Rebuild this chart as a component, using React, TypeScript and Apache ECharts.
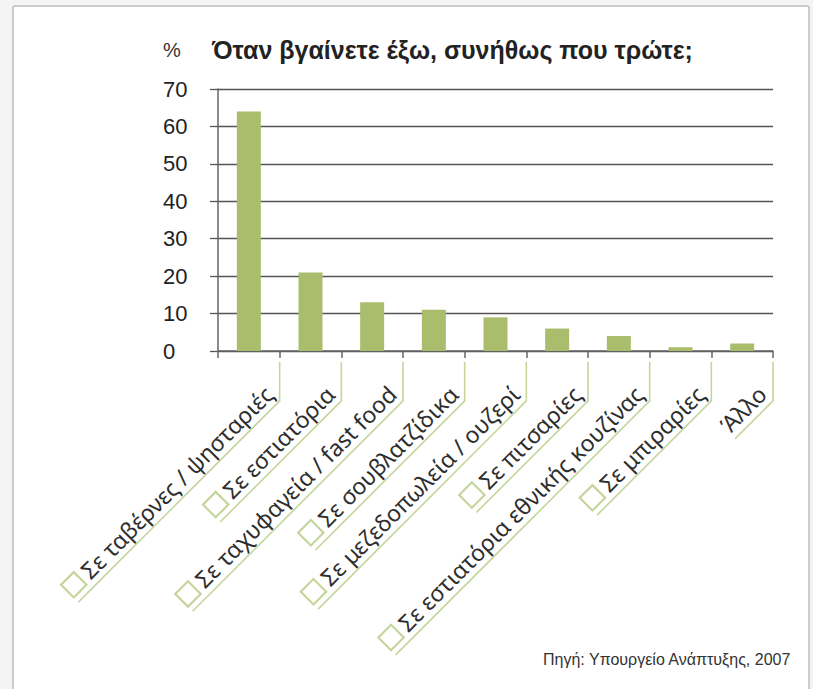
import React, { useEffect, useRef } from "react";
import * as echarts from "echarts";

const categories = [
  "Σε ταβέρνες / ψησταριές",
  "Σε εστιατόρια",
  "Σε ταχυφαγεία / fast food",
  "Σε σουβλατζίδικα",
  "Σε μεζεδοπωλεία / ουζερί",
  "Σε πιτσαρίες",
  "Σε εστιατόρια εθνικής κουζίνας",
  "Σε μπιραρίες",
  "Άλλο",
];
const values = [64, 21, 13, 11, 9, 6, 4, 1, 2];
const withCheckbox = [true, true, true, true, true, true, true, true, false];
const yMin = 0;
const yMax = 70;
const yInterval = 10;
const titleText = "Όταν βγαίνετε έξω, συνήθως που τρώτε;";
const unitText = "%";
const sourceText = "Πηγή: Υπουργείο Ανάπτυξης, 2007";

const W = 813;
const H = 689;
const GRID_LEFT = 218;
const GRID_RIGHT = 40;
const GRID_TOP = 89;
const GRID_BOTTOM = 338;
const LINE1_H = 25;
const LINE2_H = 6;
const UNDER_OFF = LINE1_H / 2; // underline distance below block middle
const LABEL_MARGIN = 41;
const GREEN = "#c6d59c";
const BAR = "#a9bd6c";
const LABEL_FONT = "Noto Sans";

export default function App() {
  const ref = useRef<HTMLDivElement>(null);
  useEffect(() => {
    if (!ref.current) return;
    const chart = echarts.init(ref.current, undefined, { renderer: "svg" });
    const n = categories.length;
    const band = (W - GRID_LEFT - GRID_RIGHT) / n;
    const d = UNDER_OFF * Math.SQRT1_2;
    const shift = band / 2 - d;

    chart.setOption({
      animation: false,
      backgroundColor: "#f4f4f4",
      title: [
        {
          text: unitText,
          left: 163,
          top: 40,
          padding: 0,
          textStyle: { fontFamily: "Liberation Sans", fontSize: 20, fontWeight: "normal", color: "#333" },
        },
        {
          text: titleText,
          left: 212,
          top: 37,
          padding: 0,
          textStyle: { fontFamily: "Liberation Sans", fontSize: 25, fontWeight: "bold", color: "#222" },
        },
        {
          text: sourceText,
          left: 543,
          top: 651,
          padding: 0,
          textStyle: { fontFamily: "Liberation Sans", fontSize: 16, fontWeight: "normal", color: "#333" },
        },
      ],
      grid: [
        { left: GRID_LEFT, right: GRID_RIGHT, top: GRID_TOP, bottom: GRID_BOTTOM, outerBoundsMode: "none" },
        { left: GRID_LEFT + shift, right: GRID_RIGHT - shift, top: GRID_TOP, bottom: GRID_BOTTOM, outerBoundsMode: "none" },
      ],
      xAxis: [
        {
          type: "category",
          gridIndex: 0,
          data: categories,
          boundaryGap: true,
          axisLine: { show: true, lineStyle: { color: "#666", width: 1.5 } },
          axisTick: { show: true, interval: 0, length: 7, lineStyle: { color: "#666", width: 1.5 } },
          axisLabel: { show: false },
          splitLine: { show: false },
        },
        {
          type: "category",
          gridIndex: 1,
          data: categories,
          boundaryGap: true,
          axisLine: { show: false },
          axisTick: { show: false },
          splitLine: { show: false },
          axisLabel: {
            show: true,
            interval: 0,
            rotate: 45,
            margin: LABEL_MARGIN,
            hideOverlap: false,
            fontFamily: LABEL_FONT,
            fontSize: 23,
            color: "#2e2e2e",
            formatter: (value: string, idx: number) =>
              withCheckbox[idx] ? `{b|}{g|}{t|${value}}\n{u|}` : `{t|${value}}\n{u|}`,
            rich: {
              t: { fontFamily: LABEL_FONT, fontSize: 23, color: "#2e2e2e", lineHeight: LINE1_H },
              b: { width: 18, height: 18, borderColor: GREEN, borderWidth: 2.2, lineHeight: LINE1_H },
              g: { width: 6, lineHeight: LINE1_H },
              u: { width: "100%", height: 1.6, backgroundColor: GREEN, lineHeight: LINE2_H },
            },
          },
        },
      ],
      yAxis: [
        {
          type: "value",
          gridIndex: 0,
          min: yMin,
          max: yMax,
          interval: yInterval,
          axisLine: { show: true, lineStyle: { color: "#666", width: 1.5 } },
          axisTick: { show: true, length: 8, lineStyle: { color: "#555", width: 1.3 } },
          splitLine: { show: true, lineStyle: { color: "#555", width: 1.3 } },
          axisLabel: {
            align: "left",
            margin: 55,
            fontFamily: "Liberation Sans",
            fontSize: 22,
            color: "#222",
          },
        },
        {
          type: "value",
          gridIndex: 1,
          min: yMin,
          max: yMax,
          interval: yInterval,
          show: false,
        },
      ],
      series: [
        {
          type: "bar",
          xAxisIndex: 0,
          yAxisIndex: 0,
          data: values,
          barWidth: 24,
          itemStyle: { color: BAR },
        },
      ],
    });

    const y0 = chart.convertToPixel({ yAxisIndex: 0 }, 0) as number;
    const cornerY = y0 + LABEL_MARGIN + d;
    const elements: any[] = [
      {
        type: "rect",
        z: -100,
        silent: true,
        shape: { x: 13, y: 6, width: 796, height: 720, r: 2 },
        style: { fill: "#ffffff", stroke: "#bdbdbd", lineWidth: 1.5 },
      },
    ];
    for (let i = 0; i < n; i++) {
      const cx = chart.convertToPixel({ xAxisIndex: 0 }, i) as number;
      const tx = cx + band / 2;
      elements.push({
        type: "line",
        silent: true,
        shape: { x1: tx, y1: y0 + 11, x2: tx, y2: cornerY + 0.8 },
        style: { stroke: GREEN, lineWidth: 1.6 },
      });
    }
    chart.setOption({ graphic: elements });

    return () => chart.dispose();
  }, []);
  return <div ref={ref} style={{ position: "fixed", left: 0, top: 0, width: W, height: H }} />;
}
